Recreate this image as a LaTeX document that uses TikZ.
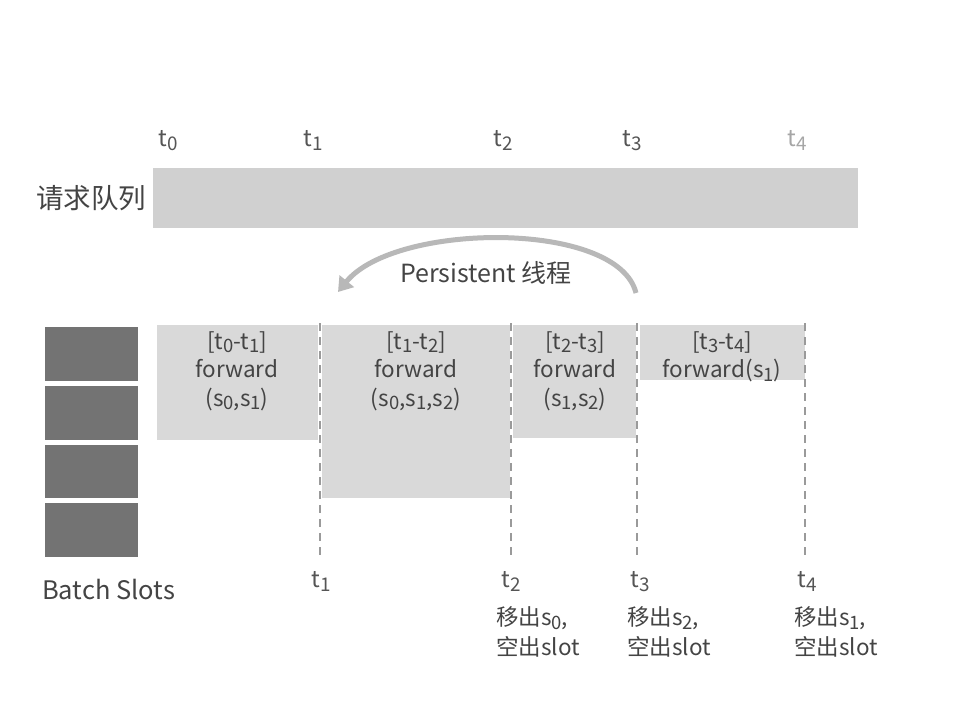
\documentclass[tikz,border=0pt]{standalone}
\usepackage{fontspec}
\usepackage{graphicx}
\setmainfont{Noto Sans CJK SC}
\usetikzlibrary{arrows.meta}
\definecolor{barfill}{HTML}{D0D0D0}
\definecolor{blockfill}{HTML}{D9D9D9}
\definecolor{slotfill}{HTML}{737373}
\definecolor{txt}{HTML}{444444}
\definecolor{tlab}{HTML}{555555}
\definecolor{dashc}{HTML}{9A9A9A}
\definecolor{arcc}{HTML}{B8B8B8}
\newcommand{\sbx}[1]{\raisebox{-0.32ex}{\scalebox{0.82}{#1}}}
\begin{document}
\begin{tikzpicture}[x=1pt,y=-1pt,
  blocktxt/.style={anchor=north,inner sep=0pt,align=center,text=txt,font=\fontsize{22.5}{28.5}\selectfont},
  tl/.style={anchor=base,inner sep=0pt,text=tlab,font=\fontsize{23}{26}\selectfont},
  note/.style={anchor=north west,inner sep=0pt,align=left,text=txt,font=\fontsize{22.5}{30}\selectfont},
  vdash/.style={draw=dashc,line width=1.8pt,dash pattern=on 8pt off 6pt}]
\useasboundingbox (0,0) rectangle (960,711);
\fill[white] (0,0) rectangle (960,711);
% request queue
\fill[barfill] (153,168) rectangle (858,228);
\node[anchor=west,inner sep=0pt,text=txt,font=\fontsize{27.5}{30}\selectfont] (rq) at (36,198) {请求队列};
% top time labels
\node[tl] (T0) at (168,147) {t\sbx{0}};
\node[tl] (T1) at (313,147) {t\sbx{1}};
\node[tl] (T2) at (503,147) {t\sbx{2}};
\node[tl] (T3) at (632,147) {t\sbx{3}};
\node[tl,text=gray!70] (T4) at (797,147) {t\sbx{4}};
% persistent thread arc
\coordinate (arcS) at (636,293);
\coordinate (arcE) at (338,292);
\draw[arcc,line width=5pt,-{Triangle[width=18pt,length=14pt]}] (arcS) .. controls (618,220) and (395,222) .. (arcE);
\node[inner sep=0pt,text=txt,font=\fontsize{25}{28}\selectfont] (pt) at (486,273) {Persistent 线程};
% batch slots
\fill[slotfill] (45,327) rectangle (138,381);
\fill[slotfill] (45,386) rectangle (138,440);
\fill[slotfill] (45,445) rectangle (138,498);
\fill[slotfill] (45,503) rectangle (138,557);
\node[anchor=west,inner sep=0pt,text=txt,font=\fontsize{25.5}{28}\selectfont] (bs) at (42,590) {Batch Slots};
% forward blocks
\fill[blockfill] (157,325) rectangle (318,440);
\fill[blockfill] (322,325) rectangle (510,498);
\fill[blockfill] (513,325) rectangle (636,438);
\fill[blockfill] (640,325) rectangle (805,380);
\node[blocktxt] (b1) at (237,331) {[t\sbx{0}-t\sbx{1}]\\forward\\(s\sbx{0},s\sbx{1})};
\node[blocktxt] (b2) at (416,331) {[t\sbx{1}-t\sbx{2}]\\forward\\(s\sbx{0},s\sbx{1},s\sbx{2})};
\node[blocktxt] (b3) at (575,331) {[t\sbx{2}-t\sbx{3}]\\forward\\(s\sbx{1},s\sbx{2})};
\node[blocktxt] (b4) at (722,331) {[t\sbx{3}-t\sbx{4}]\\forward(s\sbx{1})};
% dashed lines
\coordinate (d1a) at (320,323); \coordinate (d1b) at (320,556);
\coordinate (d2a) at (511,323); \coordinate (d2b) at (511,556);
\coordinate (d3a) at (637,323); \coordinate (d3b) at (637,556);
\coordinate (d4a) at (805,323); \coordinate (d4b) at (805,556);
\draw[vdash] (d1a) -- (d1b);
\draw[vdash] (d2a) -- (d2b);
\draw[vdash] (d3a) -- (d3b);
\draw[vdash] (d4a) -- (d4b);
% bottom time labels
\node[tl] (B1) at (321,587) {t\sbx{1}};
\node[tl] (B2) at (511,587) {t\sbx{2}};
\node[tl] (B3) at (640,587) {t\sbx{3}};
\node[tl] (B4) at (807,587) {t\sbx{4}};
\node[note] (n2) at (496,606) {移出s\sbx{0},\\空出slot};
\node[note] (n3) at (627,606) {移出s\sbx{2},\\空出slot};
\node[note] (n4) at (794,606) {移出s\sbx{1},\\空出slot};
\end{tikzpicture}
\end{document}
